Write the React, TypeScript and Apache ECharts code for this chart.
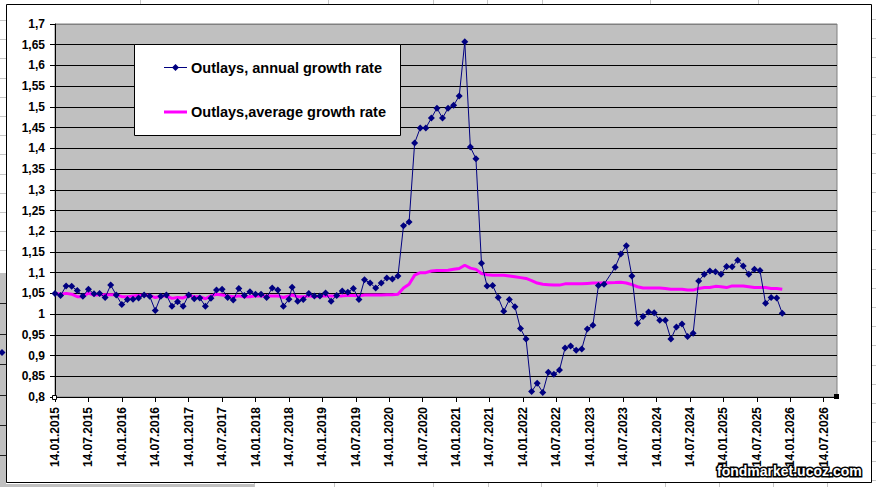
import React, { useEffect, useRef } from "react";
import * as echarts from "echarts";

// ---- data ----
const dates: string[] = [
  "2015-01-14", "2015-02-14", "2015-03-14", "2015-04-14", "2015-05-14", "2015-06-14",
  "2015-07-14", "2015-08-14", "2015-09-14", "2015-10-14", "2015-11-14", "2015-12-14",
  "2016-01-14", "2016-02-14", "2016-03-14", "2016-04-14", "2016-05-14", "2016-06-14",
  "2016-07-14", "2016-08-14", "2016-09-14", "2016-10-14", "2016-11-14", "2016-12-14",
  "2017-01-14", "2017-02-14", "2017-03-14", "2017-04-14", "2017-05-14", "2017-06-14",
  "2017-07-14", "2017-08-14", "2017-09-14", "2017-10-14", "2017-11-14", "2017-12-14",
  "2018-01-14", "2018-02-14", "2018-03-14", "2018-04-14", "2018-05-14", "2018-06-14",
  "2018-07-14",
  "2018-08-01", "2018-09-01", "2018-10-01", "2018-11-01", "2018-12-01",
  "2019-01-01", "2019-02-01", "2019-03-01", "2019-04-01", "2019-05-01", "2019-06-01",
  "2019-07-01", "2019-08-01", "2019-09-01", "2019-10-01", "2019-11-01", "2019-12-01",
  "2020-01-01", "2020-02-01", "2020-03-01", "2020-04-01", "2020-05-01", "2020-06-01",
  "2020-07-01", "2020-08-01", "2020-09-01", "2020-10-01", "2020-11-01", "2020-12-01",
  "2021-01-01", "2021-02-01", "2021-03-01", "2021-04-01", "2021-05-01", "2021-06-01",
  "2021-07-01", "2021-08-01", "2021-09-01", "2021-10-01", "2021-11-01", "2021-12-01",
  "2022-01-01", "2022-02-01", "2022-03-01", "2022-04-01", "2022-05-01", "2022-06-01",
  "2022-07-01", "2022-08-01", "2022-09-01", "2022-10-01", "2022-11-01", "2022-12-01",
  "2023-01-01", "2023-02-01", "2023-03-01", "2023-04-01",
  "2023-06-01", "2023-07-01", "2023-08-01", "2023-09-01", "2023-10-01", "2023-11-01",
  "2023-12-01",
  "2024-01-01", "2024-02-01", "2024-03-01", "2024-04-01", "2024-05-01", "2024-06-01",
  "2024-07-01", "2024-08-01", "2024-09-01", "2024-10-01", "2024-11-01", "2024-12-01",
  "2025-01-01", "2025-02-01", "2025-03-01", "2025-04-01", "2025-05-01", "2025-06-01",
  "2025-07-01", "2025-08-01", "2025-09-01", "2025-10-01", "2025-11-01", "2025-12-01",
];

const annualGrowth: number[] = [
  1.05, 1.045, 1.068, 1.067, 1.057, 1.043, 1.06, 1.049, 1.05, 1.04, 1.07, 1.046,
  1.023, 1.035, 1.036, 1.039, 1.046, 1.043, 1.009, 1.043, 1.046, 1.019, 1.03, 1.019,
  1.046, 1.037, 1.039, 1.019, 1.038, 1.058, 1.06, 1.04, 1.034, 1.062, 1.045, 1.054,
  1.048, 1.048, 1.04, 1.063, 1.058, 1.019, 1.036,
  1.065, 1.031, 1.035, 1.05, 1.044,
  1.044, 1.051, 1.031, 1.045, 1.056, 1.053, 1.062, 1.035, 1.083, 1.075, 1.063, 1.075,
  1.087, 1.085, 1.092, 1.213, 1.222, 1.413, 1.449, 1.449, 1.473, 1.497, 1.473, 1.497,
  1.504, 1.526, 1.657, 1.403, 1.375, 1.123, 1.068, 1.069, 1.04, 1.007, 1.035, 1.018,
  0.965, 0.94, 0.813, 0.833, 0.811, 0.86, 0.855, 0.865, 0.918, 0.923, 0.913, 0.916,
  0.964, 0.973, 1.069, 1.072,
  1.113, 1.145, 1.165, 1.092, 0.978, 0.994, 1.005,
  1.003, 0.985, 0.985, 0.94, 0.969, 0.976, 0.946, 0.954, 1.08, 1.096, 1.104, 1.102,
  1.096, 1.115, 1.114, 1.13, 1.116, 1.096, 1.108, 1.105, 1.026, 1.04, 1.039, 1.002,
];

const averageGrowth: number[] = [
  1.05, 1.048, 1.05, 1.048, 1.042, 1.042, 1.051, 1.046, 1.047, 1.047, 1.047, 1.047,
  1.042, 1.042, 1.044, 1.045, 1.046, 1.045, 1.04, 1.043, 1.044, 1.038, 1.04, 1.039,
  1.045, 1.042, 1.042, 1.037, 1.044, 1.048, 1.046, 1.044, 1.042, 1.044, 1.042, 1.042,
  1.044, 1.044, 1.044, 1.044, 1.044, 1.04, 1.044,
  1.046, 1.042, 1.042, 1.044, 1.042,
  1.043, 1.044, 1.044, 1.044, 1.044, 1.045, 1.045, 1.044, 1.046, 1.046, 1.046, 1.046,
  1.047, 1.047, 1.048, 1.063, 1.072, 1.094, 1.1, 1.1, 1.104, 1.105, 1.105, 1.106,
  1.108, 1.11, 1.118, 1.111, 1.108, 1.098, 1.095, 1.094, 1.094, 1.094, 1.092, 1.09,
  1.088, 1.086, 1.081, 1.075, 1.072, 1.071, 1.07, 1.07, 1.073, 1.073, 1.073, 1.073,
  1.074, 1.075, 1.075, 1.075,
  1.076, 1.077, 1.075, 1.071, 1.066, 1.063, 1.063,
  1.063, 1.063, 1.062, 1.06, 1.06, 1.06, 1.058, 1.058, 1.062, 1.064, 1.064, 1.067,
  1.066, 1.064, 1.068, 1.068, 1.068, 1.066, 1.064, 1.064, 1.064, 1.062, 1.062, 1.06,
];

const seriesNames = ["Outlays, annual growth rate", "Outlays,average growth rate"];
const watermark = "fondmarket.ucoz.com";

// axis settings (x in months counted from 14.01.2015)
const X_MIN = 0;
const X_MAX = 140.4;
const X_STEP = 6;
const Y_MIN = 0.8;
const Y_MAX = 1.7;
const Y_STEP = 0.05;

const FONT = '"Liberation Sans", Arial, sans-serif';

function monthPos(d: string): number {
  const [y, m, day] = d.split("-").map(Number);
  return (y - 2015) * 12 + (m - 1) + (day - 14) / 30.4;
}

function xLabel(v: number): string {
  const idx = Math.round(v);
  if (Math.abs(v - idx) > 1e-6 || idx % X_STEP !== 0) return "";
  const y = 2015 + Math.floor(idx / 12);
  const m = (idx % 12) + 1;
  return `14.${String(m).padStart(2, "0")}.${y}`;
}

function yLabel(v: number): string {
  const r = Math.round(v * 100) / 100;
  return String(r).replace(".", ",");
}

export default function App() {
  const ref = useRef<HTMLDivElement>(null);

  useEffect(() => {
    if (!ref.current) return;
    const chart = echarts.init(ref.current, undefined, { renderer: "svg" });

    const growthData = dates.map((d, i) => [monthPos(d), annualGrowth[i]]);
    const avgData = dates.map((d, i) => [monthPos(d), averageGrowth[i]]);

    const nLines = Math.round((Y_MAX - Y_MIN) / Y_STEP) + 1;
    const splitColors: string[] = [];
    for (let i = 0; i < nLines; i++) splitColors.push(i === nLines - 1 ? "#808080" : "#000000");

    // spreadsheet decoration around the chart object
    const deco: any[] = [];
    const gridLineStyle = { stroke: "#c6c6c6", lineWidth: 1 };
    for (let y = 20; y < 262; y += 19.2) {
      const yy = Math.round(y) + 0.5;
      deco.push({ type: "line", silent: true, z: -5, shape: { x1: 0, y1: yy, x2: 6, y2: yy }, style: gridLineStyle });
    }
    for (let y = 19; y < 483; y += 19.2) {
      const yy = Math.round(y) + 0.5;
      deco.push({ type: "line", silent: true, z: -5, shape: { x1: 872, y1: yy, x2: 876, y2: yy }, style: gridLineStyle });
    }
    [140, 328, 433, 487, 542, 650, 758].forEach((x) => {
      deco.push({ type: "line", silent: true, z: -5, shape: { x1: x + 0.5, y1: 0, x2: x + 0.5, y2: 4 }, style: gridLineStyle });
    });
    [254, 334, 433, 488, 541, 597, 665, 719, 773, 827].forEach((x) => {
      deco.push({ type: "line", silent: true, z: -5, shape: { x1: x + 0.5, y1: 483, x2: x + 0.5, y2: 487 }, style: gridLineStyle });
    });
    deco.push({ type: "rect", silent: true, z: -5, shape: { x: 0, y: 273, width: 6, height: 214 }, style: { fill: "#c0c0c0" } });
    deco.push({ type: "rect", silent: true, z: -5, shape: { x: 0, y: 484, width: 254, height: 3 }, style: { fill: "#c0c0c0" } });
    [303, 334, 364, 395, 425, 455].forEach((y) => {
      deco.push({ type: "line", silent: true, z: -4, shape: { x1: 0, y1: y + 0.5, x2: 6, y2: y + 0.5 }, style: { stroke: "#202020", lineWidth: 1 } });
    });
    deco.push({
      type: "polygon", silent: true, z: -3,
      shape: { points: [[2, 349], [5.5, 352.5], [2, 356], [-1.5, 352.5]] },
      style: { fill: "#000080" },
    });
    // chart object border
    deco.push({
      type: "rect", silent: true, z: 50,
      shape: { x: 6.5, y: 4.5, width: 865, height: 478 },
      style: { fill: "none", stroke: "#000000", lineWidth: 1 },
    });
    // selection handles
    deco.push({ type: "rect", silent: true, z: 50, shape: { x: 834, y: 394, width: 5, height: 5 }, style: { fill: "#000" } });
    deco.push({ type: "rect", silent: true, z: 50, shape: { x: 52.5, y: 395.5, width: 4, height: 4 }, style: { fill: "#fff", stroke: "#000", lineWidth: 1 } });

    // legend
    const legend: any[] = [
      {
        type: "rect", z: 60, silent: true,
        shape: { x: 134.5, y: 44.5, width: 266, height: 91 },
        style: { fill: "#ffffff", stroke: "#000000", lineWidth: 1 },
      },
      {
        type: "line", z: 61, silent: true,
        shape: { x1: 164, y1: 67.5, x2: 187, y2: 67.5 },
        style: { stroke: "#000080", lineWidth: 1 },
      },
      {
        type: "polygon", z: 62, silent: true,
        shape: { points: [[175.5, 64], [179, 67.5], [175.5, 71], [172, 67.5]] },
        style: { fill: "#000080" },
      },
      {
        type: "text", z: 62, silent: true,
        style: {
          x: 191, y: 67.5, text: seriesNames[0], fill: "#000000",
          font: `bold 14.5px ${FONT}`, verticalAlign: "middle", align: "left",
        },
      },
      {
        type: "line", z: 61, silent: true,
        shape: { x1: 164, y1: 112, x2: 187, y2: 112 },
        style: { stroke: "#ff00ff", lineWidth: 3 },
      },
      {
        type: "text", z: 62, silent: true,
        style: {
          x: 191, y: 112, text: seriesNames[1], fill: "#000000",
          font: `bold 14.5px ${FONT}`, verticalAlign: "middle", align: "left",
        },
      },
      {
        type: "text", z: 70, silent: true,
        style: {
          x: 717, y: 471, text: watermark, fill: "#ffffff", stroke: "#000000", lineWidth: 3,
          font: `bold 14px ${FONT}`, verticalAlign: "middle", align: "left",
        },
      },
    ];

    chart.setOption({
      animation: false,
      backgroundColor: "#ffffff",
      grid: {
        left: 55,
        top: 24,
        width: 782,
        height: 373,
        show: true,
        backgroundColor: "#c0c0c0",
        borderColor: "#808080",
        borderWidth: 1,
      },
      xAxis: {
        type: "value",
        min: X_MIN,
        max: X_MAX,
        interval: X_STEP,
        axisLine: { show: true, onZero: false, lineStyle: { color: "#000000", width: 1 } },
        axisTick: { show: true, inside: false, length: 5, lineStyle: { color: "#000000" } },
        splitLine: { show: false },
        axisLabel: {
          rotate: 90,
          margin: 10,
          formatter: xLabel,
          showMaxLabel: false,
          color: "#000000",
          fontWeight: "bold",
          fontSize: 12,
          fontFamily: FONT,
        },
      },
      yAxis: {
        type: "value",
        min: Y_MIN,
        max: Y_MAX,
        interval: Y_STEP,
        axisLine: { show: true, lineStyle: { color: "#000000", width: 1 } },
        axisTick: { show: true, inside: false, length: 5, lineStyle: { color: "#000000" } },
        splitLine: { show: true, lineStyle: { color: splitColors, width: 1 } },
        axisLabel: {
          margin: 10,
          formatter: yLabel,
          color: "#000000",
          fontWeight: "bold",
          fontSize: 12,
          fontFamily: FONT,
        },
      },
      series: [
        {
          name: seriesNames[1],
          type: "line",
          data: avgData,
          showSymbol: false,
          symbol: "none",
          z: 3,
          lineStyle: { color: "#ff00ff", width: 3 },
          itemStyle: { color: "#ff00ff" },
        },
        {
          name: seriesNames[0],
          type: "line",
          data: growthData,
          symbol: "diamond",
          symbolSize: 7,
          showSymbol: true,
          z: 4,
          lineStyle: { color: "#000080", width: 1 },
          itemStyle: { color: "#000080" },
        },
      ],
      graphic: { elements: [...deco, ...legend] },
    });

    return () => chart.dispose();
  }, []);

  return (
    <div
      ref={ref}
      style={{ position: "fixed", left: 0, top: 0, width: 876, height: 487, background: "#ffffff" }}
    />
  );
}
